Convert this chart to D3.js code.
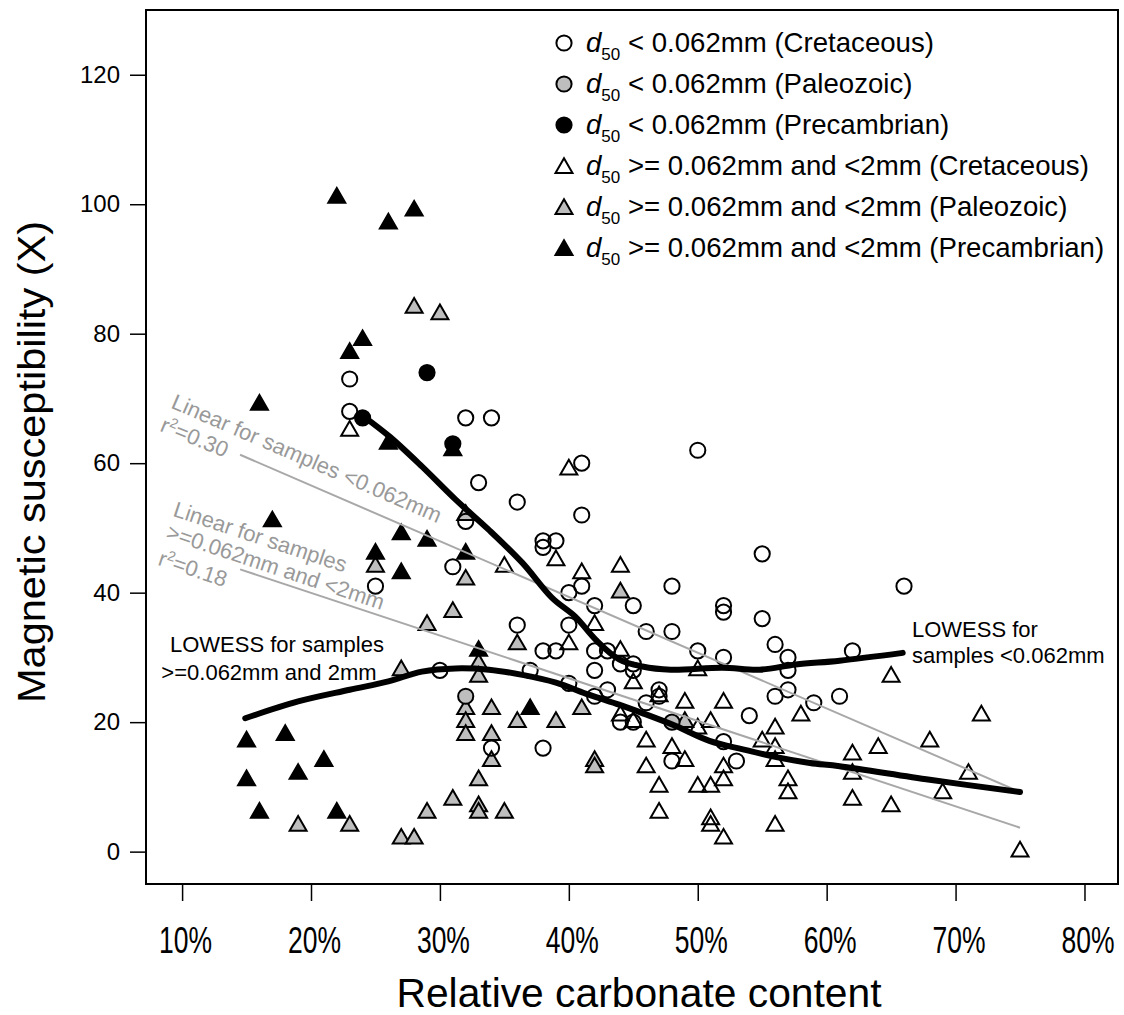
<!DOCTYPE html>
<html><head><meta charset="utf-8">
<script src="https://cdn.jsdelivr.net/npm/d3@7/dist/d3.min.js"></script>
<style>
body{margin:0;background:#fff}
text{font-family:"Liberation Sans",Arial,Helvetica,sans-serif}
</style>
</head><body>
<svg id="chart" width="1124" height="1015"></svg>
<script>
// ---------- data ----------
const xTicks = [10,20,30,40,50,60,70,80];
const yTicks = [0,20,40,60,80,100,120];

const circCretaceous = [[23,73],[23,68],[25,41],[32,67],[34,67],[33,57],[36,54],[41,60],[41,52],[32,51],[38,48],[39,48],[38,47],[31,44],[40,40],[41,41],[36,35],[38,31],[39,31],[40,35],[42,38],[42,31],[43,31],[42,28],[44,29],[45,29],[45,28],[40,26],[43,25],[42,24],[44,20],[45,20],[30,28],[37,28],[34,16],[38,16],[50,62],[55,46],[48,41],[45,38],[52,38],[52,37],[55,36],[46,34],[48,34],[50,31],[52,30],[56,32],[57,30],[57,28],[47,25],[47,24],[46,23],[54,21],[56,24],[57,25],[59,23],[61,24],[48,14],[53,14],[52,17],[66,41],[62,31]];
const circPaleozoic = [[32,24],[48,20]];
const circPrecambrian = [[24,67],[29,74],[31,63]];

const triCretaceous = [[23,65],[35,44],[39,45],[41,43],[40,59],[44,44],[40,32],[42,35],[44,31],[45,26],[50,28],[44,21],[45,20],[47,24],[49,23],[52,23],[58,21],[50,19],[51,20],[56,19],[55,17],[56,16],[46,17],[48,16],[49,14],[52,13],[52,11],[56,14],[46,13],[47,10],[50,10],[51,10],[57,11],[57,9],[47,6],[51,5],[51,4],[52,2],[56,4],[65,27],[72,21],[68,17],[62,15],[62,12],[64,16],[71,12],[69,9],[62,8],[65,7],[75,0]];
const triPaleozoic = [[28,84],[30,83],[25,44],[27,28],[31,37],[29,35],[32,42],[32,52],[36,32],[33,29],[33,27],[32,22],[34,22],[41,22],[36,20],[39,20],[32,20],[32,18],[34,18],[34,14],[42,14],[42,13],[33,11],[31,8],[29,6],[33,7],[33,6],[35,6],[27,2],[28,2],[19,4],[23,4],[44,40],[49,20]];
const triPrecambrian = [[22,101],[26,97],[28,99],[24,79],[23,77],[16,69],[26,63],[31,62],[17,51],[25,46],[27,49],[29,48],[32,46],[27,43],[33,31],[37,22],[15,17],[18,18],[21,14],[19,12],[15,11],[16,6],[22,6]];

const lowessFine = [[24.1,67.2],[26.1,64.1],[28.6,59.5],[31.2,54.4],[33.8,49.7],[36.4,44.6],[38.7,39.2],[40.5,36.3],[42.1,32.7],[43.9,29.7],[45.7,28.6],[47.9,28.1],[51.9,28.4],[54.8,28.1],[57.6,28.9],[61.0,29.5],[65.9,30.7]];
const lowessCoarse = [[14.9,20.6],[19,23.2],[23,25],[26,26.3],[28.6,27.8],[31.2,28.3],[33.8,28.1],[36.4,27.3],[39,26.1],[41.6,24.2],[43.9,22.7],[45.7,21.4],[48.3,19.4],[50.9,17.1],[53.5,15.8],[56.1,14.6],[58.7,13.7],[61,13.2],[68,11.1],[75,9.2]];
const linearFine = [[14.5,61.3],[75,9.2]];
const linearCoarse = [[14.5,43.6],[75,3.7]];

const legendLabels = [
  "< 0.062mm (Cretaceous)",
  "< 0.062mm (Paleozoic)",
  "< 0.062mm (Precambrian)",
  ">= 0.062mm and <2mm (Cretaceous)",
  ">= 0.062mm and <2mm (Paleozoic)",
  ">= 0.062mm and <2mm (Precambrian)"
];

// ---------- setup ----------
const svg = d3.select("#chart");
const x = d3.scaleLinear().domain([7.2, 82.6]).range([146, 1118]);
const y = d3.scaleLinear().domain([-5, 130]).range([884, 10]);

const GRAY = "#bebebe";
const LINEGRAY = "#a8a8a8";
const TEXTGRAY = "#999999";

// axes
const yAxis = d3.axisLeft(y).tickValues(yTicks).tickSize(16).tickPadding(10);
const gy = svg.append("g").attr("transform", "translate(146,0)").call(yAxis);
gy.select(".domain").remove();
gy.selectAll(".tick line").attr("stroke", "#000").attr("stroke-width", 1.5);
gy.selectAll(".tick text").attr("font-size", 24).attr("fill", "#000")
  .style("font-family", '"Liberation Sans",Arial,sans-serif');

const xAxis = d3.axisBottom(x).tickValues(xTicks).tickSize(17).tickFormat(d => d + "%");
const gx = svg.append("g").attr("transform", "translate(0,884)").call(xAxis);
gx.select(".domain").remove();
gx.selectAll(".tick line").attr("stroke", "#000").attr("stroke-width", 1.5);
gx.selectAll(".tick text").attr("font-size", 26.5).attr("fill", "#000")
  .attr("y", null).attr("dy", null)
  .attr("transform", "translate(3,69) scale(1,1.4)")
  .style("font-family", '"Liberation Sans",Arial,sans-serif');

// axis titles
svg.append("text").attr("x", 639).attr("y", 1007).attr("text-anchor", "middle")
  .attr("font-size", 40).attr("textLength", 485).attr("lengthAdjust", "spacingAndGlyphs")
  .text("Relative carbonate content");
svg.append("text").attr("transform", "translate(45,462) rotate(-90)").attr("text-anchor", "middle")
  .attr("font-size", 39).attr("textLength", 482).attr("lengthAdjust", "spacingAndGlyphs")
  .text("Magnetic susceptibility (X)");

// markers
const CR = 7.6;   // circle radius
const TR = 9.8;   // triangle circumradius
const triPath = (cx, cy) => {
  const h = TR, w = TR * Math.sqrt(3) / 2;
  return `M${cx},${cy - h}L${cx + w},${cy + h / 2}L${cx - w},${cy + h / 2}Z`;
};
const pts = svg.append("g");
function drawTri(data, fill) {
  pts.selectAll(null).data(data).enter().append("path")
    .attr("d", d => triPath(x(d[0]), y(d[1])))
    .attr("fill", fill).attr("stroke", "#000").attr("stroke-width", 2).attr("stroke-linejoin", "miter");
}
function drawCirc(data, fill) {
  pts.selectAll(null).data(data).enter().append("circle")
    .attr("cx", d => x(d[0])).attr("cy", d => y(d[1])).attr("r", CR)
    .attr("fill", fill).attr("stroke", "#000").attr("stroke-width", 2);
}
drawTri(triCretaceous, "none");
drawTri(triPaleozoic, GRAY);
drawTri(triPrecambrian, "#000");
drawCirc(circCretaceous, "none");
drawCirc(circPaleozoic, GRAY);
drawCirc(circPrecambrian, "#000");

// linear fits
const straight = d3.line().x(d => x(d[0])).y(d => y(d[1]));
[linearFine, linearCoarse].forEach(l => {
  svg.append("path").attr("d", straight(l)).attr("fill", "none")
    .attr("stroke", LINEGRAY).attr("stroke-width", 2);
});
// lowess
const smooth = d3.line().x(d => x(d[0])).y(d => y(d[1])).curve(d3.curveCatmullRom.alpha(0.5));
[lowessFine, lowessCoarse].forEach(l => {
  svg.append("path").attr("d", smooth(l)).attr("fill", "none")
    .attr("stroke", "#000").attr("stroke-width", 6).attr("stroke-linecap", "round").attr("stroke-linejoin", "round");
});

// annotations
const angle = l => Math.atan2(y(l[1][1]) - y(l[0][1]), x(l[1][0]) - x(l[0][0])) * 180 / Math.PI;
const a1 = angle(linearFine), a2 = angle(linearCoarse);
function rotText(px, py, ang, parts) {
  const t = svg.append("text").attr("transform", `translate(${x(px)},${y(py)}) rotate(${ang})`)
    .attr("font-size", 22).attr("fill", TEXTGRAY);
  parts.forEach(p => {
    const s = t.append("tspan").text(p.t);
    if (p.sup) s.attr("font-size", 14).attr("dy", -8);
    if (p.back) s.attr("dy", 8);
  });
}
rotText(9.06, 68.6, a1, [{t: "Linear for samples <0.062mm"}]);
rotText(8.21, 65.0, a1 - 1, [{t: "r"}, {t: "2", sup: true}, {t: "=0.30", back: true}]);
rotText(9.22, 51.9, a2, [{t: "Linear for samples"}]);
rotText(8.67, 48.4, a2, [{t: ">=0.062mm and <2mm"}]);
rotText(8.05, 44.3, a2, [{t: "r"}, {t: "2", sup: true}, {t: "=0.18", back: true}]);

svg.append("text").attr("x", x(17.36)).attr("y", y(30.8)).attr("text-anchor", "middle")
  .attr("font-size", 22).text("LOWESS for samples");
svg.append("text").attr("x", x(16.74)).attr("y", y(26.5)).attr("text-anchor", "middle")
  .attr("font-size", 22).text(">=0.062mm and 2mm");
svg.append("text").attr("x", x(66.62)).attr("y", y(33.2))
  .attr("font-size", 22).text("LOWESS for");
svg.append("text").attr("x", x(66.62)).attr("y", y(29.1))
  .attr("font-size", 22).text("samples <0.062mm");

// legend
const legendShapes = [
  {k: "c", f: "#fff"}, {k: "c", f: GRAY}, {k: "c", f: "#000"},
  {k: "t", f: "#fff"}, {k: "t", f: GRAY}, {k: "t", f: "#000"}
];
const lg = svg.append("g");
legendLabels.forEach((lab, i) => {
  const cy = 43 + i * 41, cx = 564;
  const s = legendShapes[i];
  if (s.k === "c") lg.append("circle").attr("cx", cx).attr("cy", cy).attr("r", CR)
    .attr("fill", s.f).attr("stroke", "#000").attr("stroke-width", 2);
  else lg.append("path").attr("d", triPath(cx, cy + 2)).attr("fill", s.f)
    .attr("stroke", "#000").attr("stroke-width", 2);
  const t = lg.append("text").attr("x", 586).attr("y", cy + 9).attr("font-size", 27.6);
  t.append("tspan").attr("font-style", "italic").text("d");
  t.append("tspan").attr("font-size", 17).attr("dy", 8).text("50");
  t.append("tspan").attr("dy", -8).text(" " + lab);
});

// frame
svg.append("rect").attr("x", 146).attr("y", 10).attr("width", 972).attr("height", 874)
  .attr("fill", "none").attr("stroke", "#000").attr("stroke-width", 2);
</script>
</body></html>
